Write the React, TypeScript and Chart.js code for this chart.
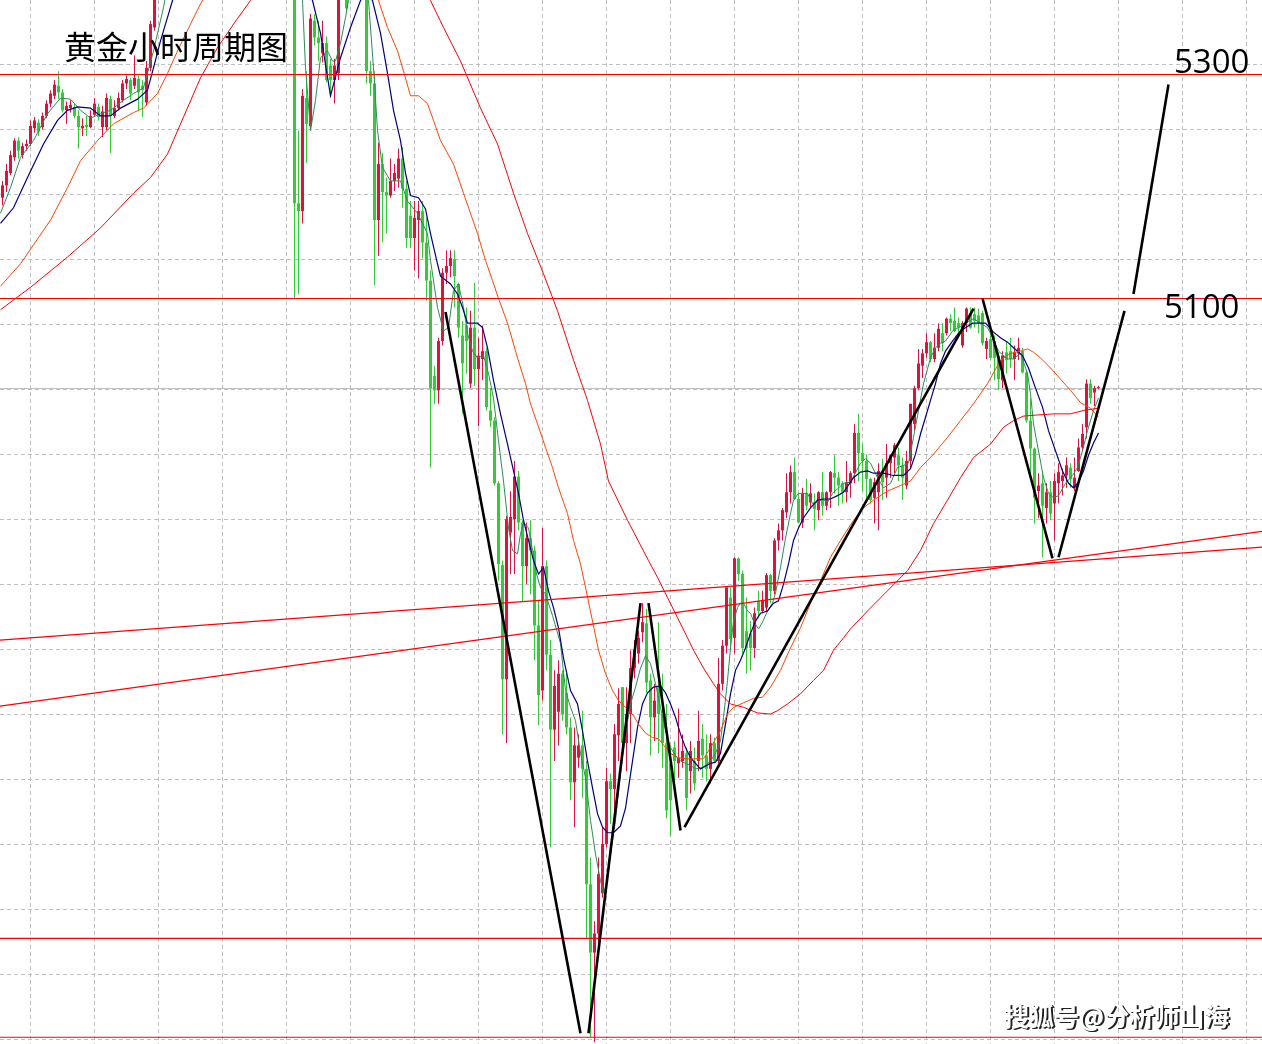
import React, { useEffect, useRef } from "react";
import { Chart, registerables } from "chart.js";

Chart.register(...registerables);

// ---------- chart text ----------
const TITLE = "黄金小时周期图";
const WATERMARK = "搜狐号@分析师山海";
const LEVEL_LABELS: [string, number][] = [
  ["5300", 5300],
  ["5100", 5100],
];

// ---------- hourly candles (index 0 = first bar on the left) ----------
const opens = [
  5190, 5201, 5212, 5226, 5241, 5228, 5236, 5238, 5252, 5257,
  5253, 5263, 5274, 5281, 5290, 5284, 5268, 5270, 5271, 5263,
  5252, 5255, 5253, 5264, 5271, 5253, 5253, 5278, 5263, 5270,
  5277, 5292, 5295, 5290, 5296, 5290, 5275, 5306, 5342, 5375,
  5402, 5418, 5433, 5428, 5455, 5470, 5462, 5490, 5505, 5496,
  5524, 5540, 5530, 5548, 5566, 5558, 5536, 5555, 5525, 5502,
  5520, 5486, 5498, 5468, 5452, 5470, 5438, 5425, 5440, 5412,
  5426, 5400, 5410, 5393, 5185, 5178, 5279, 5254, 5348, 5333,
  5319, 5328, 5308, 5295, 5301, 5375, 5393, 5370, 5388, 5412,
  5392, 5378, 5303, 5292, 5170, 5220, 5195, 5192, 5205, 5207,
  5225, 5198, 5174, 5154, 5170, 5178, 5150, 5116, 5031, 5018,
  5062, 5123, 5129, 5135, 5113, 5067, 5076, 5024, 5074, 5037,
  5046, 5053, 5000, 4991, 4935, 4862, 4760, 4891, 4903, 4941,
  4900, 4861, 4886, 4875, 4808, 4750, 4861, 4782, 4715, 4731,
  4765, 4748, 4717, 4668, 4690, 4701, 4680, 4577, 4516, 4533,
  4569, 4613, 4669, 4662, 4710, 4753, 4703, 4729, 4770, 4783,
  4802, 4810, 4759, 4726, 4753, 4729, 4703, 4685, 4699, 4685,
  4687, 4694, 4678, 4687, 4687, 4707, 4692, 4680, 4703, 4687,
  4756, 4790, 4833, 4797, 4868, 4854, 4803, 4801, 4788, 4830,
  4821, 4824, 4853, 4839, 4884, 4893, 4909, 4927, 4945, 4921,
  4900, 4926, 4918, 4918, 4911, 4927, 4915, 4927, 4944, 4940,
  4935, 4927, 4935, 4944, 4980, 4962, 4955, 4939, 4922, 4927,
  4946, 4940, 4953, 4958, 4960, 4951, 4933, 4955, 4988, 5020,
  5040, 5051, 5061, 5046, 5056, 5069, 5069, 5082, 5080, 5078,
  5058, 5078, 5087, 5086, 5085, 5087, 5055, 5064, 5062, 5049,
  5027, 5052, 5053, 5046, 5051, 5053, 5034, 4991, 4966, 4928,
  4935, 4913, 4927, 4917, 4935, 4937, 4942, 4949, 4931, 4946,
  4967, 4985, 5024, 5016, 5020,
];
const highs = [
  5205, 5220, 5232, 5243, 5244, 5239, 5242, 5259, 5262, 5260,
  5266, 5277, 5286, 5295, 5303, 5287, 5276, 5277, 5274, 5268,
  5261, 5263, 5268, 5279, 5274, 5272, 5283, 5281, 5277, 5284,
  5295, 5299, 5297, 5317, 5299, 5295, 5312, 5348, 5384, 5411,
  5425, 5440, 5452, 5460, 5478, 5485, 5495, 5512, 5520, 5530,
  5548, 5560, 5555, 5575, 5590, 5572, 5562, 5568, 5540, 5530,
  5526, 5505, 5510, 5482, 5475, 5478, 5450, 5448, 5445, 5432,
  5430, 5418, 5420, 5402, 5250, 5287, 5303, 5354, 5354, 5348,
  5348, 5334, 5314, 5314, 5384, 5402, 5400, 5395, 5420, 5418,
  5405, 5385, 5312, 5303, 5239, 5230, 5208, 5225, 5220, 5234,
  5235, 5205, 5187, 5187, 5187, 5187, 5172, 5125, 5040, 5065,
  5127, 5143, 5143, 5143, 5114, 5080, 5092, 5089, 5114, 5065,
  5076, 5056, 5020, 4994, 4937, 4866, 4906, 4928, 4955, 4946,
  4902, 4900, 4902, 4879, 4830, 4895, 4866, 4795, 4768, 4777,
  4768, 4768, 4726, 4717, 4711, 4732, 4687, 4601, 4544, 4601,
  4628, 4681, 4676, 4720, 4752, 4753, 4753, 4786, 4795, 4803,
  4828, 4823, 4765, 4756, 4811, 4765, 4738, 4701, 4705, 4734,
  4711, 4699, 4705, 4699, 4732, 4720, 4711, 4711, 4708, 4779,
  4795, 4842, 4842, 4869, 4869, 4857, 4833, 4812, 4824, 4839,
  4839, 4855, 4854, 4886, 4899, 4913, 4944, 4951, 4958, 4926,
  4931, 4939, 4935, 4926, 4928, 4945, 4928, 4946, 4960, 4945,
  4937, 4955, 4946, 4988, 4997, 4970, 4961, 4940, 4940, 4953,
  4957, 4970, 4961, 4971, 4967, 4958, 4964, 5006, 5022, 5055,
  5055, 5069, 5062, 5069, 5078, 5078, 5083, 5086, 5092, 5083,
  5080, 5092, 5092, 5092, 5091, 5089, 5065, 5071, 5067, 5052,
  5053, 5062, 5065, 5058, 5065, 5056, 5036, 5011, 4967, 4944,
  4946, 4935, 4937, 4944, 4953, 4948, 4958, 4953, 4958, 4975,
  4988, 5028, 5028, 5022, 5022,
];
const lows = [
  5183, 5195, 5210, 5223, 5225, 5225, 5232, 5236, 5248, 5245,
  5251, 5261, 5271, 5278, 5278, 5266, 5256, 5266, 5261, 5234,
  5245, 5245, 5252, 5262, 5259, 5244, 5250, 5230, 5261, 5268,
  5275, 5287, 5277, 5287, 5268, 5262, 5272, 5303, 5339, 5370,
  5395, 5410, 5420, 5422, 5448, 5455, 5458, 5480, 5488, 5490,
  5515, 5522, 5510, 5540, 5550, 5530, 5528, 5520, 5495, 5490,
  5480, 5465, 5460, 5440, 5445, 5430, 5415, 5418, 5405, 5400,
  5395, 5388, 5380, 5100, 5104, 5167, 5221, 5250, 5326, 5312,
  5311, 5293, 5281, 5274, 5295, 5370, 5357, 5368, 5380, 5385,
  5372, 5292, 5281, 5112, 5138, 5150, 5158, 5190, 5196, 5199,
  5181, 5145, 5145, 5125, 5118, 5136, 5098, 4949, 5006, 5006,
  5058, 5113, 5119, 5092, 5065, 4997, 5033, 5020, 5022, 4986,
  5027, 5000, 4985, 4933, 4848, 4711, 4703, 4854, 4854, 4893,
  4830, 4845, 4836, 4777, 4719, 4741, 4768, 4610, 4687, 4701,
  4723, 4711, 4652, 4628, 4681, 4654, 4529, 4440, 4436, 4515,
  4565, 4610, 4631, 4634, 4687, 4687, 4678, 4703, 4761, 4774,
  4793, 4748, 4692, 4705, 4694, 4681, 4636, 4620, 4658, 4672,
  4681, 4643, 4658, 4661, 4678, 4672, 4669, 4667, 4685, 4685,
  4750, 4783, 4786, 4783, 4848, 4783, 4765, 4768, 4779, 4815,
  4819, 4821, 4828, 4836, 4875, 4884, 4904, 4917, 4920, 4899,
  4895, 4911, 4913, 4893, 4902, 4906, 4911, 4913, 4926, 4915,
  4917, 4918, 4922, 4935, 4937, 4928, 4922, 4917, 4899, 4893,
  4920, 4922, 4940, 4944, 4937, 4920, 4930, 4949, 4982, 5018,
  5029, 5047, 5043, 5043, 5053, 5053, 5067, 5071, 5070, 5069,
  5056, 5070, 5073, 5074, 5069, 5058, 5046, 5045, 5027, 5018,
  5020, 5033, 5038, 5027, 5045, 5033, 4989, 4940, 4899, 4904,
  4869, 4899, 4902, 4884, 4917, 4924, 4931, 4931, 4928, 4945,
  4964, 4975, 5006, 5004, 5019,
];
const closes = [
  5201, 5214, 5228, 5241, 5232, 5236, 5238, 5254, 5259, 5249,
  5263, 5274, 5283, 5291, 5284, 5268, 5272, 5273, 5263, 5253,
  5254, 5253, 5263, 5274, 5262, 5267, 5279, 5263, 5270, 5279,
  5292, 5296, 5283, 5297, 5284, 5286, 5306, 5345, 5379, 5402,
  5418, 5433, 5428, 5455, 5470, 5462, 5490, 5505, 5496, 5524,
  5540, 5530, 5548, 5566, 5558, 5536, 5555, 5525, 5502, 5520,
  5486, 5498, 5468, 5452, 5470, 5438, 5425, 5440, 5412, 5426,
  5400, 5410, 5393, 5185, 5178, 5281, 5256, 5350, 5333, 5328,
  5328, 5295, 5295, 5308, 5375, 5393, 5359, 5388, 5412, 5392,
  5378, 5303, 5292, 5170, 5220, 5195, 5192, 5205, 5212, 5225,
  5198, 5154, 5154, 5172, 5178, 5150, 5116, 5020, 5018, 5062,
  5123, 5129, 5136, 5120, 5074, 5042, 5062, 5074, 5037, 5049,
  5053, 5003, 4991, 4935, 4863, 4760, 4903, 4905, 4941, 4900,
  4861, 4886, 4875, 4808, 4746, 4861, 4782, 4715, 4754, 4765,
  4729, 4717, 4668, 4701, 4701, 4680, 4577, 4516, 4533, 4586,
  4613, 4669, 4662, 4711, 4738, 4703, 4729, 4770, 4786, 4797,
  4811, 4757, 4726, 4741, 4729, 4703, 4643, 4652, 4687, 4690,
  4696, 4654, 4696, 4667, 4705, 4692, 4680, 4703, 4687, 4756,
  4790, 4842, 4796, 4868, 4854, 4788, 4788, 4788, 4819, 4821,
  4830, 4853, 4839, 4884, 4893, 4911, 4927, 4945, 4921, 4900,
  4926, 4915, 4926, 4912, 4927, 4915, 4927, 4945, 4940, 4933,
  4927, 4936, 4944, 4980, 4962, 4955, 4939, 4920, 4936, 4946,
  4936, 4953, 4960, 4969, 4951, 4940, 4955, 5006, 5020, 5042,
  5051, 5061, 5046, 5056, 5073, 5060, 5082, 5078, 5071, 5074,
  5078, 5091, 5074, 5080, 5078, 5060, 5062, 5047, 5047, 5028,
  5049, 5045, 5046, 5052, 5056, 5034, 4991, 4966, 4922, 4933,
  4915, 4927, 4908, 4937, 4945, 4942, 4951, 4939, 4940, 4967,
  4979, 5024, 5011, 5020, 5020,
];

// ---------- moving averages: [bar index, price] ----------
const maFast: [number, number][] = [
  [-0.5, 5176], [2, 5199], [4.5, 5226], [7.75, 5241], [11.25, 5265], [14.5, 5279], [17, 5278], [19.5, 5268],
  [22, 5261], [24.5, 5265], [27, 5268], [30.25, 5277], [32.75, 5283], [35.25, 5288], [37.75, 5321], [40.25, 5360],
  [42, 5393], [50, 5500], [60, 5530], [70, 5420], [74.5, 5380], [75, 5366], [75.75, 5306], [77, 5250],
  [78.25, 5277], [79.5, 5315], [81.25, 5321], [82.5, 5312], [83.25, 5312], [84.5, 5328], [85.75, 5351], [86.5, 5366],
  [88, 5395], [90, 5390], [91.5, 5366], [92.75, 5306], [93.75, 5250], [95, 5217], [97, 5205], [99.5, 5205],
  [101.25, 5187], [103.75, 5176], [106.25, 5158], [107, 5134], [108.75, 5092], [110.25, 5071], [111.5, 5074], [112.75, 5107],
  [114, 5113], [115.25, 5092], [116.25, 5069], [117.5, 5053], [118.75, 5047], [120.25, 5049], [121.5, 5033], [122.75, 5011],
  [124, 4973], [125.25, 4937], [126.5, 4895], [127.5, 4875], [128.75, 4872], [129.5, 4890], [130.25, 4900], [131.5, 4895],
  [132.5, 4875], [133.5, 4854], [134.5, 4842], [135.75, 4836], [137.5, 4817], [139.5, 4792], [140.75, 4750], [142, 4735],
  [143.25, 4723], [144.5, 4694], [145.75, 4672], [147, 4634], [148.25, 4604], [149.5, 4580], [150.25, 4569], [151.25, 4580],
  [152, 4604], [153.25, 4634], [154.5, 4676], [155.75, 4711], [157, 4738], [158.25, 4753], [159.5, 4770], [160.75, 4781],
  [162, 4774], [163.25, 4756], [164.5, 4735], [165.75, 4714], [167, 4699], [168.25, 4692], [169.5, 4687], [170.75, 4685],
  [172, 4683], [173.25, 4680], [174.5, 4681], [175.75, 4683], [177, 4687], [178.25, 4694], [179.5, 4705], [180.25, 4726],
  [181.25, 4759], [182, 4788], [182.75, 4812], [183.75, 4824], [184.5, 4828], [185.25, 4828], [186.25, 4821], [187, 4819],
  [187.75, 4812], [189, 4805], [190, 4811], [191.25, 4821], [192.5, 4828], [193.25, 4837], [194.5, 4860], [195.75, 4886],
  [197, 4908], [197.75, 4920], [199, 4926], [201.25, 4926], [202.5, 4917], [203.75, 4918], [205, 4921], [206.25, 4918],
  [207.5, 4926], [208.75, 4930], [210.25, 4935], [212, 4936], [214.5, 4953], [215.75, 4957], [217, 4953], [218.75, 4940],
  [220.25, 4931], [222, 4935], [223.75, 4949], [225.25, 4951], [226.5, 4953], [227.75, 4976], [229, 5000], [230.25, 5024],
  [232, 5047], [233.25, 5056], [234.5, 5060], [235.75, 5062], [237.5, 5071], [239, 5074], [241.25, 5079], [242.75, 5082],
  [244.5, 5078], [246.25, 5074], [247, 5069], [249, 5053], [251.25, 5046], [252.75, 5046], [254.5, 5051], [256.25, 5033],
  [257, 5015], [257.75, 4988], [259, 4964], [260.25, 4940], [261.5, 4926], [262.75, 4922], [264, 4924], [265.75, 4935],
  [267.5, 4942], [268.75, 4949], [270, 4964], [271.25, 4982], [272.75, 5000], [274, 5011],
];
const maMid: [number, number][] = [
  [-0.5, 5167], [2.75, 5181], [6.25, 5208], [10.25, 5238], [13.75, 5259], [16.25, 5268], [18.75, 5271], [22, 5270],
  [24.5, 5263], [27, 5263], [29.5, 5270], [33.75, 5278], [36.25, 5286], [37.75, 5306], [39.5, 5330], [41.25, 5351],
  [42.5, 5366], [54.5, 5455], [69.5, 5420], [77.5, 5366], [79.5, 5337], [82, 5281], [84.5, 5315], [87, 5342],
  [89.5, 5366], [91, 5373], [92.5, 5366], [94.5, 5337], [96.25, 5301], [97.75, 5268], [99.5, 5241], [100.75, 5212],
  [102, 5192], [104, 5190], [105.75, 5180], [107, 5158], [108.75, 5131], [109.5, 5120], [112, 5113], [113.75, 5104],
  [115, 5092], [116.25, 5078], [118.75, 5078], [120, 5074], [121.25, 5056], [122.75, 5027], [124.5, 4997], [126.25, 4970],
  [127.75, 4946], [129, 4926], [130.25, 4902], [131.5, 4884], [132.75, 4866], [134, 4854], [135.25, 4860], [136.5, 4839],
  [137.75, 4824], [139, 4806], [140.25, 4779], [142, 4750], [143.75, 4738], [145, 4714], [146.25, 4687], [147.5, 4663],
  [148.75, 4640], [150, 4628], [151.25, 4623], [152.75, 4623], [154.5, 4629], [155.75, 4645], [156.5, 4663], [157.5, 4687],
  [158.75, 4717], [160, 4738], [161.25, 4748], [162.75, 4753], [164.5, 4754], [165.75, 4748], [167, 4738], [168.25, 4726],
  [169.5, 4711], [170.75, 4699], [172, 4690], [173.25, 4685], [174.5, 4680], [177, 4685], [178.25, 4686], [179.5, 4694],
  [180.75, 4720], [182, 4747], [183.25, 4768], [184.5, 4777], [185.75, 4788], [187, 4801], [188.25, 4812], [189.5, 4819],
  [191.25, 4821], [192.75, 4828], [194, 4830], [195.25, 4845], [196.5, 4863], [197.75, 4884], [199, 4895], [200.25, 4904],
  [202, 4913], [203.75, 4920], [205.25, 4921], [207, 4921], [208.75, 4924], [210.25, 4927], [212.75, 4940], [214.5, 4945],
  [216.25, 4946], [217.75, 4944], [220.25, 4944], [222.75, 4942], [225.25, 4942], [227, 4948], [228.25, 4961], [229.5, 4979],
  [230.75, 4994], [232, 5009], [233.25, 5024], [234.5, 5042], [235.75, 5053], [237.5, 5062], [239, 5069], [240.75, 5074],
  [242.5, 5078], [244, 5078], [245.75, 5078], [247.75, 5070], [249.5, 5065], [251.25, 5061], [252.75, 5056], [255, 5049],
  [256.5, 5038], [258.25, 5020], [260, 5003], [261.5, 4982], [263.25, 4964], [265, 4946], [266.5, 4935], [267.75, 4931],
  [269, 4936], [270.25, 4946], [271.5, 4960], [272.75, 4971], [274, 4980],
];
const maSlow: [number, number][] = [
  [-0.5, 5111], [4.5, 5131], [12, 5170], [16.25, 5199], [19.5, 5223], [23.75, 5241], [27.75, 5256], [32.75, 5266],
  [35.25, 5270], [38.75, 5283], [41.25, 5301], [43.75, 5321], [47, 5345], [49.5, 5363], [59.5, 5420], [74.5, 5446],
  [87, 5411], [94, 5366], [96.25, 5342], [98.75, 5321], [100.25, 5303], [102, 5281], [104, 5281], [106.25, 5274],
  [107.75, 5259], [109.5, 5241], [112.75, 5220], [115.25, 5194], [118.75, 5158], [120.75, 5134], [122.5, 5116], [124, 5100],
  [126.25, 5078], [128.75, 5047], [130.75, 5024], [132, 5006], [133.75, 4988], [135.75, 4967], [137.5, 4949], [139, 4931],
  [141.25, 4908], [142.75, 4884], [144.5, 4863], [145.75, 4842], [147.5, 4812], [149, 4786], [150.75, 4765], [152.5, 4750],
  [154, 4741], [155.75, 4735], [157.5, 4729], [159, 4720], [160.75, 4712], [162.5, 4708], [164, 4707], [165.75, 4699],
  [167, 4694], [168.75, 4690], [171.25, 4689], [173.75, 4689], [175.25, 4689], [177, 4699], [179.5, 4714], [181.25, 4729],
  [182.75, 4735], [185.25, 4739], [187.75, 4743], [190, 4744], [192, 4753], [194.5, 4768], [197, 4788], [199.5, 4806],
  [202, 4828], [204.5, 4848], [207, 4869], [209.5, 4884], [212.75, 4902], [215.25, 4913], [217.75, 4920], [221.25, 4928],
  [224.5, 4933], [227, 4937], [229.5, 4949], [232.75, 4961], [236.25, 4976], [239.5, 4991], [242.75, 5006], [246.25, 5024],
  [249.5, 5045], [252, 5051], [254.5, 5053], [256.25, 5055], [257.75, 5052], [259.5, 5047], [262, 5038], [264.5, 5028],
  [267, 5018], [269.5, 5007], [272, 5002], [274, 4994],
];
const maLong: [number, number][] = [
  [-0.5, 5090], [7, 5110], [16.25, 5137], [24.5, 5163], [32.75, 5194], [37, 5208], [41.25, 5229], [45.25, 5262],
  [49.5, 5297], [53.75, 5324], [57.75, 5345], [62, 5366], [72, 5420], [84.5, 5437], [99.5, 5402], [107, 5366],
  [110.25, 5342], [114.5, 5312], [119.5, 5270], [123.75, 5238], [127.75, 5194], [131.25, 5158], [135.25, 5122], [138.75, 5089],
  [142.75, 5045], [146.25, 5009], [149.5, 4970], [151.5, 4937], [156.25, 4902], [161.5, 4866], [163.75, 4851], [166.25, 4833],
  [168.75, 4815], [171.25, 4797], [172.75, 4786], [175.25, 4770], [177.75, 4756], [179.5, 4747], [182, 4738], [185.25, 4735],
  [188.75, 4730], [192, 4729], [193.75, 4732], [196.25, 4738], [199.5, 4747], [202.75, 4759], [205.25, 4768], [207.75, 4786],
  [210.25, 4797], [212, 4805], [216.25, 4821], [221.25, 4839], [226.25, 4857], [229.5, 4875], [232.75, 4899], [236.25, 4920],
  [239.5, 4940], [242.75, 4958], [247, 4970], [250.25, 4985], [252.75, 4991], [255.25, 4995], [258.75, 4996], [262.75, 4997],
  [267, 4997], [270.25, 5000], [273.75, 5002],
];

// ---------- drawn objects ----------
const levelPrices = [5300, 5100, 4528.6, 4440.4];
const bidPrice = 5019.6;
const channelLines: [number, number][][] = [
  [[-0.625, 4795], [314.875, 4878]],
  [[-0.625, 4736], [314.875, 4892]],
];
const trendSegments: [number, number][][] = [
  [[110.75, 5088], [144.5, 4444]],
  [[146.5, 4444], [159.5, 4828]],
  [[161.5, 4828], [169.5, 4625]],
  [[170.5, 4628], [242.75, 5091]],
  [[245, 5100], [262.5, 4868]],
  [[264, 4869], [280.5, 5089]],
  [[282.75, 5104], [291.5, 5291]],
];

// ---------- view ----------
const W = 1262;
const H = 1044;
const X_MIN = -0.625;
const X_MAX = X_MIN + W / 4;
const PX_PER_PRICE = 1.12;
const Y_MAX = 5366.52;
const Y_MIN = Y_MAX - H / PX_PER_PRICE;
const BULL = "#dc143c";
const BEAR = "#32cd32";
const GRID = "#c0c0c0";

const gridCols = Array.from({ length: 20 }, (_, k) => 7 + 16 * k);
const gridRows = Array.from({ length: 16 }, (_, k) => Y_MAX - (64.5 + 65 * k) / PX_PER_PRICE);

const textPlugin = {
  id: "textOverlay",
  afterDraw(chart: any) {
    const ctx = chart.ctx as CanvasRenderingContext2D;
    const ys = chart.scales.y;
    ctx.save();
    ctx.fillStyle = "#000";
    ctx.textBaseline = "alphabetic";
    ctx.font = '32px "Noto Sans CJK SC", sans-serif';
    ctx.fillText(TITLE, 64, 58.5);
    ctx.font = '33px "Open Sans", "Noto Sans", sans-serif';
    const [l1, p1] = LEVEL_LABELS[0];
    const [l2, p2] = LEVEL_LABELS[1];
    ctx.fillText(l1, 1174, ys.getPixelForValue(p1) - 1.5);
    ctx.fillText(l2, 1164, ys.getPixelForValue(p2) + 19.5);
    // watermark
    ctx.font = 'bold 25px "Noto Sans CJK SC", sans-serif';
    ctx.fillStyle = "#222";
    ctx.fillText(WATERMARK, 1006, 1027);
    ctx.fillText(WATERMARK, 1005, 1027);
    ctx.fillStyle = "#fff";
    ctx.fillText(WATERMARK, 1004, 1025.5);
    ctx.restore();
  },
};

export default function App() {
  const ref = useRef<HTMLCanvasElement>(null);

  useEffect(() => {
    const canvas = ref.current;
    if (!canvas) return;
    const idx = closes.map((_, i) => i);
    const colors = idx.map((i) => (closes[i] >= opens[i] ? BULL : BEAR));
    const line = (pts: [number, number][], color: string, width: number, order: number) => ({
      type: "line" as const,
      data: pts.map(([x, y]) => ({ x, y })),
      borderColor: color,
      borderWidth: width,
      pointRadius: 0,
      pointHoverRadius: 0,
      tension: 0,
      fill: false,
      order,
    });

    const datasets: any[] = [
      ...trendSegments.map((s) => line(s, "#000000", 2.6, 0)),
      ...channelLines.map((s) => line(s, "#ff0000", 1.2, 1)),
      ...levelPrices.map((p) => line([[-1, p], [316, p]], "#ff0000", 1.2, 1)),
      line(maLong, "#ff0000", 1, 2),
      line(maSlow, "#ff4500", 1, 2),
      line(maMid, "#000080", 1.2, 2),
      line(maFast, "#2e8b57", 1, 2),
      {
        type: "bar",
        data: idx.map((i) => ({ x: i, y: [opens[i], closes[i]] })),
        backgroundColor: colors,
        borderWidth: 0,
        barThickness: 3,
        minBarLength: 1,
        grouped: false,
        inflateAmount: 0,
        order: 3,
      },
      {
        type: "bar",
        data: idx.map((i) => ({ x: i, y: [lows[i], highs[i]] })),
        backgroundColor: colors,
        borderWidth: 0,
        barThickness: 1,
        minBarLength: 1,
        grouped: false,
        inflateAmount: 0,
        order: 4,
      },
      line([[-1, bidPrice], [316, bidPrice]], "#c0c0c0", 1, 5),
    ];

    const chart = new Chart(canvas, {
      type: "bar",
      data: { datasets },
      options: {
        responsive: false,
        animation: false,
        devicePixelRatio: 1,
        events: [],
        layout: { padding: 0 },
        plugins: { legend: { display: false }, tooltip: { enabled: false }, title: { display: false } },
        scales: {
          x: {
            type: "linear",
            min: X_MIN,
            max: X_MAX,
            offset: false,
            bounds: "data",
            afterBuildTicks: (s: any) => {
              s.ticks = gridCols.map((v) => ({ value: v }));
            },
            ticks: { display: false },
            grid: { color: GRID, lineWidth: 1, drawTicks: false, offset: false },
            border: { display: false, dash: [4, 3] },
          },
          y: {
            type: "linear",
            min: Y_MIN,
            max: Y_MAX,
            beginAtZero: false,
            bounds: "data",
            afterBuildTicks: (s: any) => {
              s.ticks = gridRows.map((v) => ({ value: v }));
            },
            ticks: { display: false },
            grid: { color: GRID, lineWidth: 1, drawTicks: false },
            border: { display: false, dash: [4, 3] },
          },
        },
      } as any,
      plugins: [textPlugin],
    });
    return () => chart.destroy();
  }, []);

  return (
    <div style={{ position: "absolute", left: 0, top: 0, width: W, height: H, background: "#fff" }}>
      <canvas ref={ref} width={W} height={H} style={{ display: "block", width: W, height: H }} />
    </div>
  );
}
